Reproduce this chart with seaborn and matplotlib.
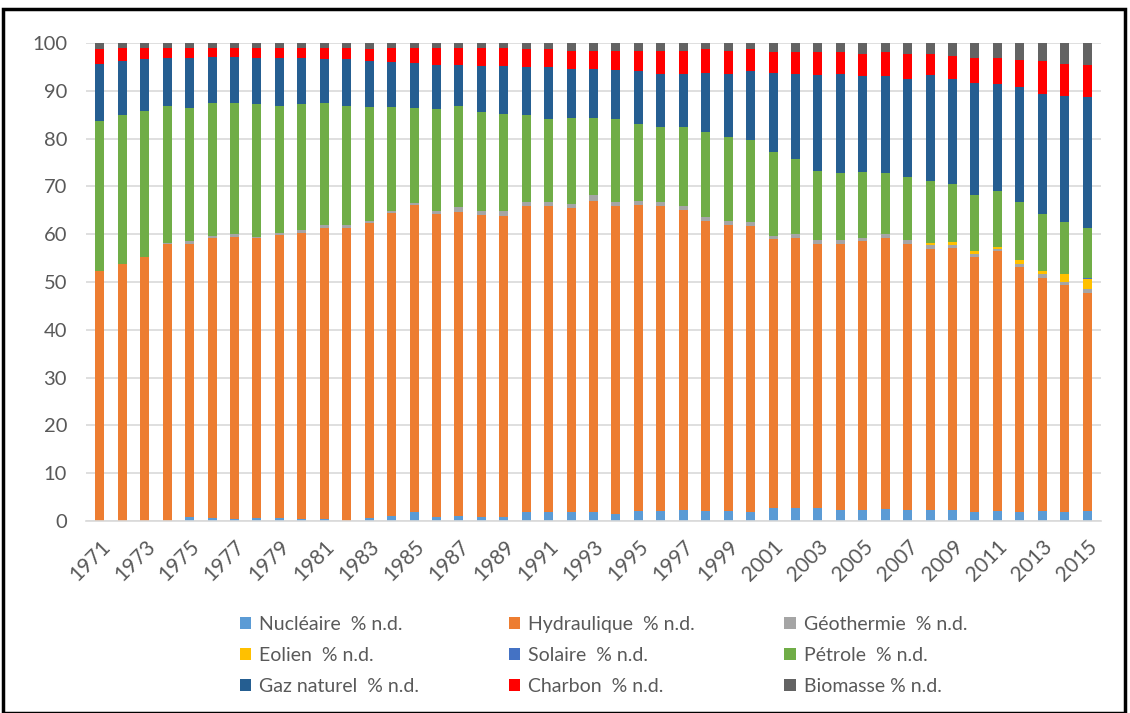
import numpy as np
import pandas as pd
import matplotlib
matplotlib.use("Agg")
import matplotlib.pyplot as plt
from matplotlib.patches import Patch, Rectangle
import seaborn as sns

years = list(range(1971, 2016))

nucleaire = [0, 0, 0, 0, 0.9, 0.6, 0.4, 0.6, 0.6, 0.4, 0.4, 0, 0.6, 1.1, 1.8,
             0.9, 1.1, 0.9, 0.9, 1.8, 1.8, 1.8, 1.8, 1.5, 2.0, 2.0, 2.3, 2.0, 2.0, 1.8,
             2.8, 2.8, 2.8, 2.3, 2.3, 2.5, 2.3, 2.3, 2.3, 1.8, 2.0, 1.8, 2.0, 1.8, 2.0]
hydraulique = [52.3, 53.8, 55.2, 57.9, 57.0, 58.7, 59.1, 58.5, 59.2, 59.9, 61.0, 61.4, 61.7, 63.3, 64.4,
               63.4, 63.5, 63.2, 62.9, 64.1, 64.1, 63.6, 65.2, 64.4, 64.2, 63.9, 62.8, 60.8, 59.9, 59.9,
               56.2, 56.5, 55.2, 55.7, 56.3, 56.8, 55.7, 54.6, 54.9, 53.5, 54.4, 51.4, 48.8, 47.6, 45.8]
geothermie = [0, 0, 0, 0.2, 0.7, 0.4, 0.5, 0.4, 0.5, 0.5, 0.5, 0.5, 0.4, 0.4, 0.3,
              0.5, 1.1, 0.7, 1.0, 0.8, 0.8, 1.0, 1.1, 0.8, 0.8, 0.8, 0.8, 0.7, 0.9, 0.8,
              0.7, 0.7, 0.8, 0.8, 0.7, 0.7, 0.8, 0.8, 0.6, 0.6, 0.5, 0.5, 0.8, 0.6, 0.7]
eolien = [0] * 37 + [0.4, 0.5, 0.5, 0.5, 0.9, 0.8, 1.6, 2.2]
solaire = [0] * 43 + [0.1, 0.1]
petrole = [31.4, 31.2, 30.6, 28.8, 27.7, 27.7, 27.4, 27.7, 26.6, 26.4, 25.5, 25.0, 23.9, 21.8, 20.0,
           21.4, 21.1, 20.7, 20.4, 18.2, 17.4, 17.9, 16.2, 17.4, 16.0, 15.7, 16.5, 17.9, 17.5, 17.3,
           17.4, 15.7, 14.5, 14.0, 13.8, 12.8, 13.2, 13.1, 12.3, 11.9, 11.6, 12.1, 11.9, 10.8, 10.6]
gaz_naturel = [12.0, 11.2, 10.8, 10.0, 10.6, 9.7, 9.7, 9.7, 10.0, 9.7, 9.2, 9.7, 9.6, 9.4, 9.4,
               9.2, 8.6, 9.7, 10.0, 10.0, 10.8, 10.3, 10.3, 10.2, 11.1, 11.2, 11.2, 12.4, 13.3, 14.3,
               16.7, 17.9, 20.0, 20.8, 19.9, 20.2, 20.4, 22.1, 21.8, 23.4, 22.5, 24.1, 25.1, 26.5, 27.3]
charbon = [3.0, 2.8, 2.4, 2.1, 2.1, 1.9, 1.9, 2.1, 2.1, 2.1, 2.4, 2.4, 2.5, 3.0, 3.1,
           3.6, 3.6, 3.8, 3.8, 3.8, 3.8, 3.8, 3.8, 4.1, 4.3, 4.8, 4.8, 4.9, 4.8, 4.6,
           4.3, 4.5, 4.8, 4.5, 4.8, 5.1, 5.2, 4.3, 4.9, 5.1, 5.3, 5.7, 6.8, 6.7, 6.8]
biomasse = [1.3, 1.0, 1.0, 1.0, 1.0, 1.0, 1.0, 1.0, 1.0, 1.0, 1.0, 1.0, 1.3, 1.0, 1.0,
            1.0, 1.0, 1.0, 1.0, 1.3, 1.3, 1.6, 1.6, 1.6, 1.6, 1.6, 1.6, 1.3, 1.6, 1.3,
            1.9, 1.9, 1.9, 1.9, 2.2, 1.9, 2.4, 2.4, 2.7, 3.2, 3.2, 3.5, 3.8, 4.3, 4.5]

series_names = ["Nucléaire  % n.d.", "Hydraulique  % n.d.", "Géothermie  % n.d.",
                "Eolien  % n.d.", "Solaire  % n.d.", "Pétrole  % n.d.",
                "Gaz naturel  % n.d.", "Charbon  % n.d.", "Biomasse % n.d."]
series_values = [nucleaire, hydraulique, geothermie, eolien, solaire, petrole,
                 gaz_naturel, charbon, biomasse]
colors = ["#5B9BD5", "#ED7D31", "#A5A5A5", "#FFC000", "#4472C4", "#70AD47",
          "#255E91", "#FF0000", "#636363"]

sns.set_theme(style="white")
plt.rcParams["font.family"] = ["Lato", "DejaVu Sans"]

df = pd.DataFrame({n: v for n, v in zip(series_names, series_values)})
df["year"] = [str(y) for y in years]
cum = df[series_names].cumsum(axis=1)

fig = plt.figure(figsize=(11.3, 7.13), dpi=100)
ax = fig.add_axes([0.0765, 0.2693, 0.974 - 0.0765, 0.9397 - 0.2693])

# draw cumulative totals from the top series down so lower layers overlay upper ones
for name, col in reversed(list(zip(series_names, colors))):
    sns.barplot(x=df["year"], y=cum[name], color=col, width=0.4, ax=ax,
                saturation=1, linewidth=0, order=df["year"].tolist())

ax.set_xlim(-0.6, 44.6)
ax.set_ylim(0, 100)
ax.set_yticks(np.arange(0, 101, 10))
ax.set_yticklabels([str(v) for v in range(0, 101, 10)], fontsize=14.5, color="#595959")
xt = list(range(0, len(years), 2))
ax.set_xticks(xt)
ax.set_xticklabels([str(years[i]) for i in xt], rotation=45, ha="right",
                   rotation_mode="anchor", fontsize=15, color="#595959")
ax.tick_params(axis="y", length=0, pad=14)
ax.tick_params(axis="x", length=0, pad=11)
ax.set_xlabel("")
ax.set_ylabel("")
ax.yaxis.grid(True, color="#D9D9D9", linewidth=1.2)
ax.set_axisbelow(True)
for s in ["top", "right", "left"]:
    ax.spines[s].set_visible(False)
ax.spines["bottom"].set_color("#D9D9D9")
ax.spines["bottom"].set_linewidth(1.2)

handles = [Patch(facecolor=c, edgecolor="none", label=n) for n, c in zip(series_names, colors)]
order = [0, 3, 6, 1, 4, 7, 2, 5, 8]
leg = fig.legend([handles[i] for i in order], [series_names[i] for i in order],
                 ncol=3, loc="center", bbox_to_anchor=(0.534, 0.081), frameon=False,
                 fontsize=14, handlelength=0.6, handleheight=0.6, handletextpad=0.4,
                 columnspacing=4.6, labelspacing=0.72, labelcolor="#595959")

fig.patches.append(Rectangle((0.003, 0.0), 0.993, 0.988, transform=fig.transFigure,
                             fill=False, edgecolor="black", linewidth=2.5))

fig.savefig("out.png", dpi=100)
